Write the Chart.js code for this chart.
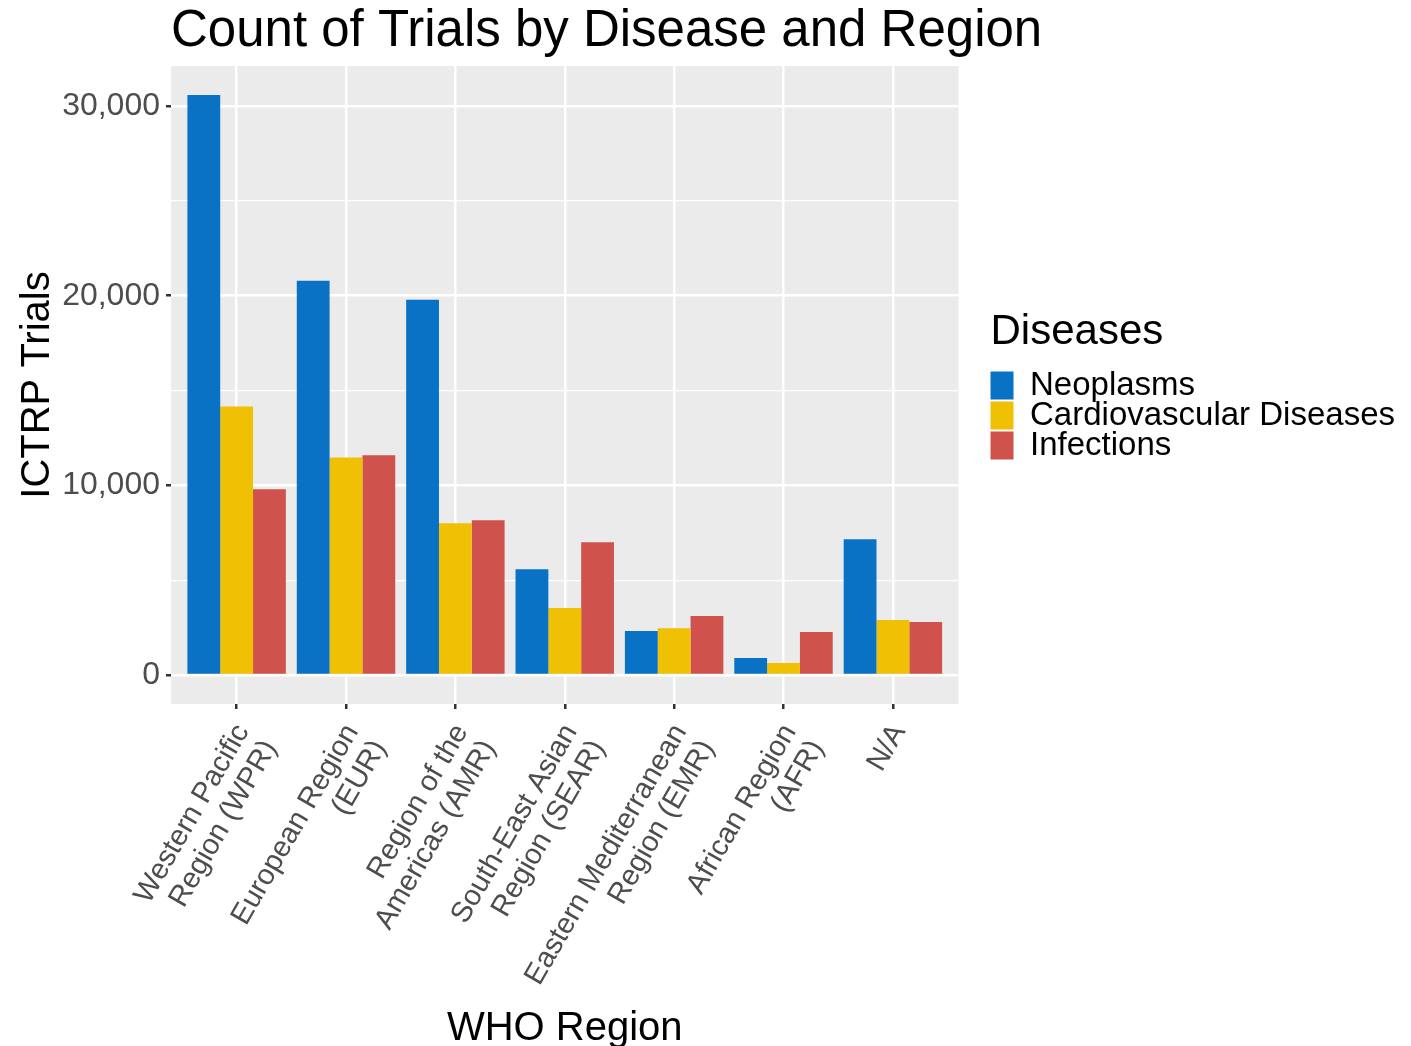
<!DOCTYPE html>
<html>
<head>
<meta charset="utf-8">
<script src="https://cdn.jsdelivr.net/npm/chart.js@4/dist/chart.umd.min.js"></script>
<style>
  html, body { margin: 0; padding: 0; background: #fff; }
  canvas { display: block; }
</style>
</head>
<body>
<canvas id="grafica" width="1411" height="1046"></canvas>
<script>
// Datos
const regiones = [
    ['Western Pacific', 'Region (WPR)'],
    ['European Region', '(EUR)'],
    ['Region of the', 'Americas (AMR)'],
    ['South-East Asian', 'Region (SEAR)'],
    ['Eastern Mediterranean', 'Region (EMR)'],
    ['African Region', '(AFR)'],
    ['N/A']
];
const neoplasms = [30580, 20790, 19790, 5580, 2320, 900, 7160];
const cardiovascular = [14160, 11470, 8000, 3530, 2470, 630, 2900];
const infections = [9790, 11580, 8160, 7000, 3110, 2260, 2790];
const yTicksMayores = [0, 10000, 20000, 30000];
const yTicksMenores = [5000, 15000, 25000];

const colores = ['#0a72c4', '#efc004', '#cf534c'];
const series = [
    { nombre: 'Neoplasms', valores: neoplasms },
    { nombre: 'Cardiovascular Diseases', valores: cardiovascular },
    { nombre: 'Infections', valores: infections }
];

Chart.defaults.font.family = "'Liberation Sans', Arial, sans-serif";

// Fondo gris del panel, al estilo ggplot
const fondoPanel = {
    id: 'fondoPanel',
    afterLayout(chart) {
        // el título empieza en el borde del panel pero puede salirse por la derecha
        const t = chart.titleBlock;
        if (t) {
            t.right = chart.width;
            t.width = t.right - t.left;
        }
    },
    beforeDraw(chart) {
        const a = chart.chartArea;
        const ctx = chart.ctx;
        ctx.save();
        ctx.fillStyle = '#ebebeb';
        ctx.fillRect(a.left, a.top, a.right - a.left, a.bottom - a.top);
        ctx.restore();
    }
};

const esMayor = v => v % 10000 === 0;

const ctx = document.getElementById('grafica').getContext('2d');
const chart = new Chart(ctx, {
    type: 'bar',
    data: {
        datasets: series.map((s, i) => ({
            label: s.nombre,
            data: s.valores.map((v, j) => ({ x: j + 1, y: v })),
            backgroundColor: colores[i],
            borderWidth: 0,
            categoryPercentage: 0.9,
            barPercentage: 1
        }))
    },
    options: {
        responsive: false,
        animation: false,
        devicePixelRatio: 1,
        layout: { padding: { top: 0, right: 6, bottom: 0, left: 0 } },
        plugins: {
            tooltip: { enabled: false },
            title: {
                display: true,
                text: 'Count of Trials by Disease and Region',
                align: 'start',
                fullSize: false,
                color: '#000',
                font: { size: 51, weight: 'normal', lineHeight: 1 },
                padding: { top: 6, bottom: 9 }
            },
            legend: {
                position: 'right',
                align: 'center',
                fullSize: false,
                maxWidth: 480,
                title: {
                    display: true,
                    text: 'Diseases',
                    position: 'start',
                    color: '#000',
                    font: { size: 42, lineHeight: 1 },
                    padding: { top: 0, bottom: 19 }
                },
                labels: {
                    boxWidth: 26,
                    boxHeight: 28,
                    padding: -3,
                    color: '#000',
                    font: { size: 33, lineHeight: 1 }
                }
            }
        },
        scales: {
            x: {
                type: 'linear',
                offset: false,
                min: 0.4,
                max: 7.6,
                afterBuildTicks(scale) {
                    scale.ticks = regiones.map((r, i) => ({ value: i + 1 }));
                },
                afterFit(scale) { scale.height = 342; },
                grid: { offset: false, color: '#ffffff', lineWidth: 2.5, tickColor: '#333333', tickLength: 5 },
                border: { display: false },
                ticks: {
                    autoSkip: false,
                    minRotation: 60,
                    maxRotation: 60,
                    color: '#4d4d4d',
                    font: { size: 29, lineHeight: 1.1 },
                    padding: 10,
                    labelOffset: 6,
                    callback: (v) => regiones[Math.round(v) - 1] || ''
                },
                title: {
                    display: true,
                    text: 'WHO Region',
                    color: '#000',
                    font: { size: 40, lineHeight: 0.85 },
                    padding: { top: 0, bottom: 0 }
                }
            },
            y: {
                min: -1530,
                max: 32110,
                afterBuildTicks(scale) {
                    scale.ticks = yTicksMayores.concat(yTicksMenores)
                        .sort((a, b) => a - b)
                        .map(v => ({ value: v }));
                },
                afterFit(scale) { scale.width = 171; },
                grid: {
                    color: '#ffffff',
                    lineWidth: c => (c.tick && esMayor(c.tick.value)) ? 2.5 : 1.2,
                    tickColor: c => (c.tick && esMayor(c.tick.value)) ? '#333333' : 'rgba(0,0,0,0)',
                    tickLength: 5
                },
                border: { display: false },
                ticks: {
                    color: '#4d4d4d',
                    font: { size: 32 },
                    padding: 6,
                    callback: v => esMayor(v) ? v.toLocaleString('en-US') : ''
                },
                title: {
                    display: true,
                    text: 'ICTRP Trials',
                    color: '#000',
                    font: { size: 40, lineHeight: 1 },
                    padding: { top: 18, bottom: 0 }
                }
            },
            // eje vacío que solo deja el hueco entre el panel y la leyenda
            hueco: {
                type: 'linear',
                position: 'right',
                grid: { display: false },
                border: { display: false },
                ticks: { display: false },
                afterFit(scale) { scale.width = 32; }
            }
        }
    },
    plugins: [fondoPanel]
});
</script>
</body>
</html>
